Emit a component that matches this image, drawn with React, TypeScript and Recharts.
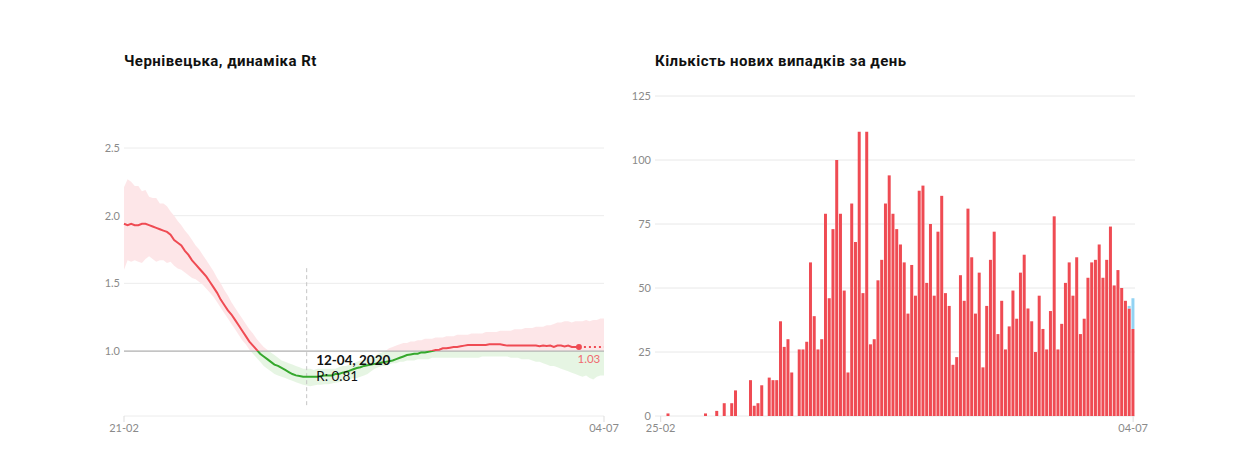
import React from 'react';
import {
  ComposedChart, Area, Line, XAxis, YAxis, CartesianGrid, ReferenceLine, ReferenceDot,
  BarChart, Bar,
} from 'recharts';

// ---------- Left chart: Rt ----------
const rtTickLabels: Record<number, string> = { 0: '21-02', 134: '04-07' };
const rtValues = [
  1.94, 1.93, 1.94, 1.93, 1.93, 1.94, 1.94, 1.93, 1.92, 1.91,
  1.90, 1.89, 1.88, 1.86, 1.82, 1.80, 1.78, 1.74, 1.71, 1.67,
  1.64, 1.61, 1.58, 1.55, 1.51, 1.47, 1.43, 1.38, 1.34, 1.30,
  1.27, 1.23, 1.19, 1.15, 1.11, 1.07, 1.04, 1.01, 0.98, 0.96,
  0.94, 0.92, 0.90, 0.89, 0.875, 0.86, 0.845, 0.83, 0.82, 0.815,
  0.81, 0.81, 0.81, 0.81, 0.81, 0.815, 0.82, 0.82, 0.82, 0.83,
  0.83, 0.84, 0.845, 0.855, 0.865, 0.875, 0.88, 0.89, 0.895, 0.90,
  0.905, 0.91, 0.915, 0.92, 0.925, 0.93, 0.94, 0.95, 0.96, 0.97,
  0.975, 0.98, 0.98, 0.99, 0.99, 0.995, 1.00, 1.007, 1.01, 1.02,
  1.02, 1.025, 1.03, 1.03, 1.035, 1.04, 1.044, 1.045, 1.045, 1.045,
  1.045, 1.045, 1.05, 1.05, 1.05, 1.05, 1.045, 1.04, 1.04, 1.04,
  1.04, 1.04, 1.04, 1.04, 1.04, 1.04, 1.035, 1.04, 1.037, 1.04,
  1.03, 1.04, 1.04, 1.033, 1.04, 1.03, 1.03, 1.03,
];
const rtProjected = [1.03, 1.03, 1.03, 1.03, 1.03, 1.03, 1.03, 1.03];
const rtUpper = [
  2.21, 2.27, 2.25, 2.22, 2.22, 2.18, 2.19, 2.14, 2.13, 2.13,
  2.09, 2.09, 2.07, 2.03, 2.00, 1.96, 1.93, 1.89, 1.86, 1.82,
  1.78, 1.75, 1.71, 1.67, 1.63, 1.59, 1.54, 1.50, 1.45, 1.41,
  1.36, 1.32, 1.28, 1.24, 1.20, 1.16, 1.13, 1.09, 1.06, 1.03,
  1.01, 0.99, 0.97, 0.95, 0.93, 0.92, 0.91, 0.90, 0.89, 0.88,
  0.87, 0.87, 0.87, 0.86, 0.87, 0.87, 0.87, 0.87, 0.87, 0.87,
  0.88, 0.89, 0.89, 0.90, 0.91, 0.92, 0.93, 0.93, 0.94, 0.95,
  0.96, 0.98, 0.99, 1.00, 1.02, 1.03, 1.04, 1.05, 1.06, 1.06,
  1.07, 1.07, 1.08, 1.08, 1.09, 1.09, 1.09, 1.10, 1.10, 1.10,
  1.11, 1.11, 1.11, 1.12, 1.12, 1.12, 1.12, 1.13, 1.13, 1.13,
  1.13, 1.14, 1.14, 1.14, 1.14, 1.15, 1.15, 1.15, 1.15, 1.16,
  1.16, 1.16, 1.17, 1.17, 1.17, 1.18, 1.18, 1.18, 1.19, 1.19,
  1.20, 1.21, 1.21, 1.22, 1.22, 1.21, 1.22, 1.22, 1.22, 1.23,
  1.22, 1.23, 1.23, 1.24, 1.24,
];
const rtLower = [
  1.60, 1.67, 1.66, 1.67, 1.66, 1.65, 1.68, 1.70, 1.68, 1.66,
  1.67, 1.67, 1.65, 1.66, 1.63, 1.61, 1.60, 1.58, 1.56, 1.54,
  1.53, 1.51, 1.49, 1.46, 1.43, 1.40, 1.36, 1.32, 1.28, 1.24,
  1.20, 1.16, 1.12, 1.08, 1.05, 1.01, 0.98, 0.95, 0.92, 0.89,
  0.87, 0.85, 0.83, 0.82, 0.81, 0.80, 0.79, 0.78, 0.77, 0.76,
  0.75, 0.745, 0.74, 0.745, 0.75, 0.75, 0.755, 0.755, 0.76, 0.765,
  0.77, 0.78, 0.79, 0.79, 0.80, 0.80, 0.81, 0.82, 0.83, 0.85,
  0.87, 0.88, 0.89, 0.89, 0.90, 0.91, 0.91, 0.92, 0.92, 0.93,
  0.93, 0.93, 0.94, 0.94, 0.94, 0.94, 0.95, 0.95, 0.95, 0.95,
  0.95, 0.95, 0.95, 0.95, 0.95, 0.95, 0.95, 0.95, 0.95, 0.95,
  0.96, 0.96, 0.96, 0.96, 0.96, 0.96, 0.96, 0.96, 0.95, 0.95,
  0.95, 0.94, 0.94, 0.94, 0.93, 0.92, 0.92, 0.91, 0.90, 0.89,
  0.89, 0.88, 0.87, 0.86, 0.85, 0.84, 0.83, 0.82, 0.81, 0.82,
  0.80, 0.79, 0.81, 0.82, 0.82,
];
const rtYTicks = [1, 1.5, 2, 2.5];
const tooltipDay = 51;
const tooltipDate = '12-04, 2020';
const lastSolidDay = 127;

const rtData = rtUpper.map((u, i) => ({
  i,
  band: [rtLower[i], u],
  r: i < rtValues.length ? rtValues[i] : null,
  rp: i >= lastSolidDay ? rtProjected[i - lastSolidDay] : null,
}));

// ---------- Right chart: new cases ----------
const caseTickLabels: Record<number, string> = { 0: '25-02', 126: '04-07' };
const confirmed = [
  0, 0, 1, 0, 0, 0, 0, 0, 0, 0,
  0, 0, 1, 0, 0, 2, 0, 5, 0, 5,
  10, 0, 0, 0, 14, 4, 5, 12, 0, 15,
  14, 14, 37, 27, 30, 17, 0, 26, 26, 29,
  60, 39, 26, 30, 79, 46, 73, 100, 79, 49,
  17, 83, 68, 111, 48, 111, 28, 30, 53, 61,
  83, 94, 79, 73, 67, 60, 40, 59, 47, 88,
  90, 52, 75, 47, 72, 86, 48, 43, 20, 23,
  55, 45, 81, 62, 40, 56, 19, 43, 61, 72,
  32, 45, 26, 35, 49, 38, 56, 63, 42, 37,
  25, 47, 34, 26, 41, 78, 26, 36, 52, 60,
  47, 62, 32, 38, 54, 60, 61, 67, 54, 61,
  74, 51, 57, 50, 45, 42, 34,
];
const pending = confirmed.map((_, i) => (i === 125 ? 1 : i === 126 ? 12 : 0));
const caseYTicks = [0, 25, 50, 75, 100, 125];

const caseData = confirmed.map((c, i) => ({ i, c, p: pending[i] }));

const FONT = 'Lato, "Noto Sans", sans-serif';
const TITLE_FONT = 'Roboto, "Noto Sans", sans-serif';
const RED = '#ef4b53';
const GREEN = '#35a82d';
const TICK = { fill: '#8a8a8a', fontSize: 11, fontFamily: FONT };

// layout
const H = 471;
const PLOT_TOP_L = 148;
const PLOT_BOTTOM = 416;
const Y_MIN_L = 0.52;
const Y_MAX_L = 2.5;
const yOnePx = PLOT_TOP_L + ((Y_MAX_L - 1) / (Y_MAX_L - Y_MIN_L)) * (PLOT_BOTTOM - PLOT_TOP_L);
const oneOff = yOnePx / H;

const TooltipLabel = (props: any) => {
  const vb = props.viewBox || {};
  const x = (vb.x ?? 0) + (vb.width ?? 0) / 2;
  const y = (vb.y ?? 0) + (vb.height ?? 0) / 2;
  return (
    <g fontFamily={FONT}>
      <text x={x + 9.5} y={y - 11.5} fontSize={13.5} fontWeight={700} fill="#111">{tooltipDate}</text>
      <text x={x + 9.5} y={y + 4.5} fontSize={13.5} fill="#111">R: {rtValues[tooltipDay].toFixed(2)}</text>
    </g>
  );
};

const LastLabel = (props: any) => {
  const vb = props.viewBox || {};
  const x = (vb.x ?? 0) + (vb.width ?? 0) / 2;
  const y = (vb.y ?? 0) + (vb.height ?? 0) / 2;
  return (
    <text x={x + 10} y={y + 16.5} fontSize={11.5} textAnchor="middle" fill="#f06a70" fontFamily={FONT}>
      {rtValues[lastSolidDay].toFixed(2)}
    </text>
  );
};

const titleStyle: React.CSSProperties = {
  position: 'absolute', top: 51, fontSize: 15, fontWeight: 700, color: '#111',
  whiteSpace: 'nowrap', lineHeight: '20px', fontFamily: TITLE_FONT, letterSpacing: '0.45px',
};

export default function App() {
  return (
    <div style={{ position: 'absolute', left: 0, top: 0, width: 1252, height: 471, background: '#fff', fontFamily: FONT }}>
      <div style={{ ...titleStyle, left: 124 }}>Чернівецька, динаміка Rt</div>
      <div style={{ ...titleStyle, left: 655 }}>Кількість нових випадків за день</div>

      <div style={{ position: 'absolute', left: 0, top: 0 }}>
        <ComposedChart width={640} height={H} data={rtData} margin={{ top: PLOT_TOP_L, right: 36, bottom: 25, left: 84 }}>
          <defs>
            <linearGradient id="bandGrad" gradientUnits="userSpaceOnUse" x1="0" y1="0" x2="0" y2={H}>
              <stop offset={oneOff} stopColor="#fde6e8" />
              <stop offset={oneOff} stopColor="#e6f5e3" />
            </linearGradient>
            <linearGradient id="lineGrad" gradientUnits="userSpaceOnUse" x1="0" y1="0" x2="0" y2={H}>
              <stop offset={oneOff} stopColor={RED} />
              <stop offset={oneOff} stopColor={GREEN} />
            </linearGradient>
          </defs>
          <CartesianGrid vertical={false} stroke="#ececec" />
          <XAxis
            dataKey="i" type="number" domain={[0, 134]} ticks={[0, 134]}
            tickFormatter={(v: number) => rtTickLabels[v] ?? ''}
            axisLine={false} tickLine={{ stroke: '#dddddd' }} tick={TICK} tickSize={6} tickMargin={2} height={30}
          />
          <YAxis
            type="number" domain={[Y_MIN_L, Y_MAX_L]} ticks={rtYTicks} allowDataOverflow
            tickFormatter={(v: number) => v.toFixed(1)}
            axisLine={false} tickLine={false} tickSize={0} tickMargin={4} tick={TICK} width={40}
          />
          <Area dataKey="band" type="linear" stroke="none" fill="url(#bandGrad)" fillOpacity={1} isAnimationActive={false} activeDot={false} />
          <ReferenceLine y={1} stroke="#b3b3b3" strokeWidth={1.2} />
          <ReferenceLine segment={[{ x: tooltipDay, y: 0.6 }, { x: tooltipDay, y: 1.613 }]} stroke="#c4c4c4" strokeDasharray="4 3" />
          <Line dataKey="r" type="linear" stroke="url(#lineGrad)" strokeWidth={2} dot={false} isAnimationActive={false} connectNulls={false} />
          <Line dataKey="rp" type="linear" stroke={RED} strokeWidth={2} strokeDasharray="2 3" dot={false} isAnimationActive={false} connectNulls={false} />
          <ReferenceDot x={lastSolidDay} y={rtValues[lastSolidDay]} r={3} fill={RED} stroke="none" label={<LastLabel />} />
          <ReferenceDot x={tooltipDay} y={rtValues[tooltipDay]} r={0} fill="none" stroke="none" label={<TooltipLabel />} />
        </ComposedChart>
      </div>

      <div style={{ position: 'absolute', left: 600, top: 0 }}>
        <BarChart width={652} height={H} data={caseData} margin={{ top: 96, right: 117, bottom: 25, left: 15 }} barCategoryGap="5%">
          <CartesianGrid vertical={false} stroke="#e8e8e8" />
          <XAxis
            dataKey="i" type="category" ticks={[0, 126]} interval={0}
            tickFormatter={(v: number) => caseTickLabels[v] ?? ''}
            padding={{ left: 3.8, right: 0 }}
            axisLine={false} tickLine={{ stroke: '#dddddd' }} tick={TICK} tickSize={6} tickMargin={2} height={30}
          />
          <YAxis
            type="number" domain={[0, 125]} ticks={caseYTicks}
            axisLine={false} tickLine={false} tickSize={0} tickMargin={4} tick={TICK} width={40}
          />
          <Bar dataKey="c" stackId="s" fill={RED} isAnimationActive={false} />
          <Bar dataKey="p" stackId="s" fill="#92d3f3" isAnimationActive={false} />
        </BarChart>
      </div>
    </div>
  );
}
